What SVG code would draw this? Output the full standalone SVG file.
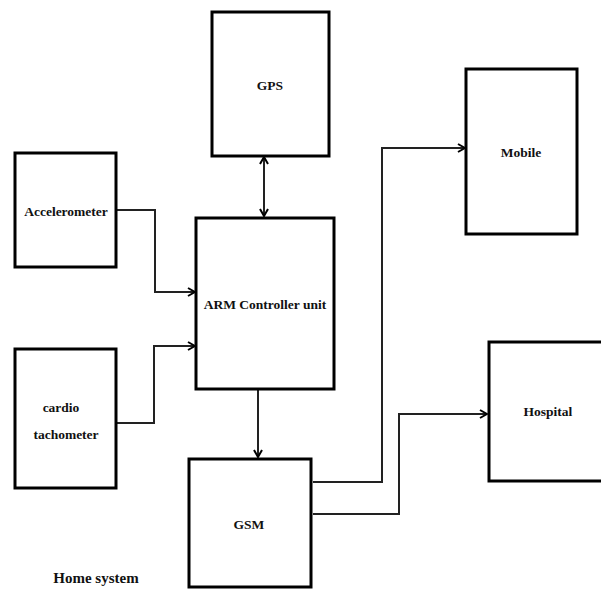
<svg xmlns="http://www.w3.org/2000/svg" width="601" height="589" viewBox="0 0 601 589">
<style>
.box{fill:#fff;stroke:#000;stroke-width:3}
.lbl{font-family:"Liberation Serif","Times New Roman",serif;font-weight:bold;font-size:13.5px;fill:#111;text-anchor:middle}
.con{fill:none;stroke:#222;stroke-width:2}
</style>
<defs>
<marker id="ah" viewBox="0 0 10 10" refX="9" refY="5" markerWidth="10" markerHeight="10" markerUnits="userSpaceOnUse" orient="auto-start-reverse">
<polyline points="2,1 9,5 2,9" fill="none" stroke="#000" stroke-width="2"/>
</marker>
</defs>
<rect width="601" height="589" fill="#fff"/>
<g id="connectors">
<polyline class="con" points="116,210 155,210 155,292 195,292" marker-end="url(#ah)"/>
<polyline class="con" points="116,423 154,423 154,346 195,346" marker-end="url(#ah)"/>
<line class="con" x1="264" y1="157" x2="264" y2="216" marker-start="url(#ah)" marker-end="url(#ah)"/>
<line class="con" x1="258" y1="390" x2="258" y2="457" marker-end="url(#ah)"/>
<polyline class="con" points="313,482 382,482 382,148 465,148" marker-end="url(#ah)"/>
<polyline class="con" points="313,514 399,514 399,414 487,414" marker-end="url(#ah)"/>
</g>
<g id="gps"><rect class="box" x="212" y="12" width="117" height="144"/><text class="lbl" x="270" y="90">GPS</text></g>
<g id="accelerometer"><rect class="box" x="15" y="153" width="101" height="114"/><text class="lbl" x="66" y="216">Accelerometer</text></g>
<g id="arm"><rect class="box" x="196" y="218" width="138" height="171"/><text class="lbl" x="265" y="309">ARM Controller unit</text></g>
<g id="cardio"><rect class="box" x="15" y="349" width="101" height="139"/><text class="lbl" x="61" y="412">cardio</text><text class="lbl" x="66" y="439">tachometer</text></g>
<g id="gsm"><rect class="box" x="189" y="459" width="122" height="128"/><text class="lbl" x="249" y="529">GSM</text></g>
<g id="mobile"><rect class="box" x="466" y="69" width="111" height="165"/><text class="lbl" x="521" y="157">Mobile</text></g>
<g id="hospital"><rect class="box" x="489" y="342" width="120" height="139"/><text class="lbl" x="548" y="416">Hospital</text></g>
<g id="home"><text class="lbl" x="96" y="583" style="font-size:15px">Home system</text></g>
</svg>
